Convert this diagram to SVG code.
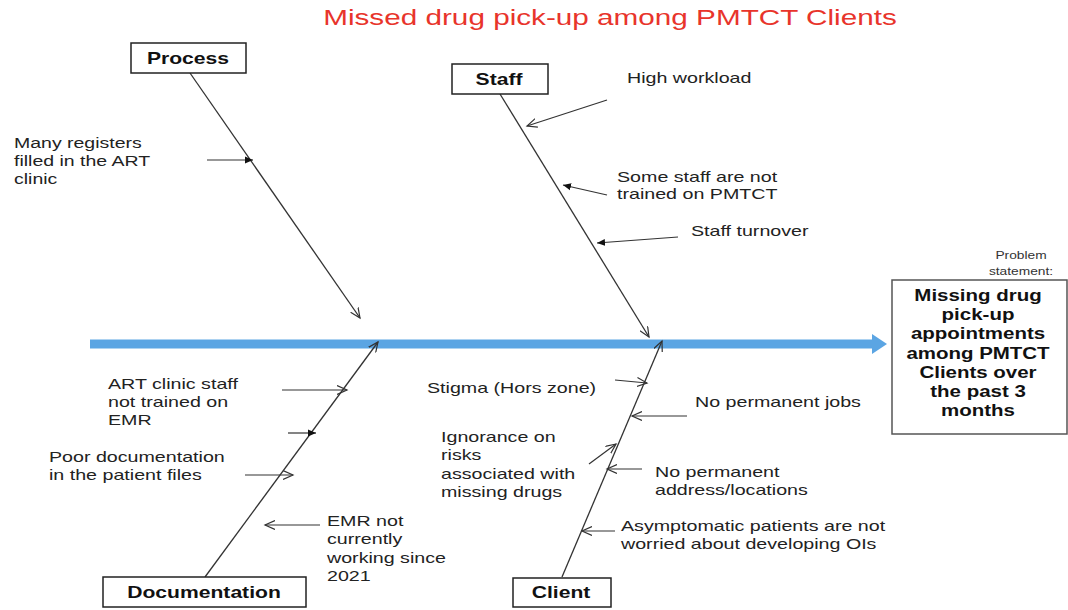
<svg xmlns="http://www.w3.org/2000/svg" width="1068" height="610" viewBox="0 0 1068 610">
<style>
.t{font-family:"Liberation Sans",Arial,sans-serif;font-size:15px;fill:#222}
.b{font-family:"Liberation Sans",Arial,sans-serif;font-size:16px;font-weight:bold;fill:#111;text-anchor:middle}
.s{font-family:"Liberation Sans",Arial,sans-serif;font-size:11px;fill:#333;text-anchor:middle}
.ttl{font-family:"Liberation Sans",Arial,sans-serif;font-size:22px;fill:#e8342b;text-anchor:middle}
.box{fill:#fff;stroke:#222;stroke-width:1.5}
.bone{stroke:#333;stroke-width:1.3;fill:none}
.ar{stroke:#333;stroke-width:1.2;fill:none}
.ao{marker-end:url(#open)}
.af{marker-end:url(#fill)}
</style>
<defs>
<marker id="open" markerWidth="12" markerHeight="10" refX="10" refY="5" orient="auto" markerUnits="userSpaceOnUse"><path d="M0,0.5 L10,5 L0,9.5" fill="none" stroke="#333" stroke-width="1.2"/></marker>
<marker id="fill" markerWidth="10" markerHeight="8" refX="8" refY="4" orient="auto" markerUnits="userSpaceOnUse"><path d="M0,0.5 L8,4 L0,7.5 z" fill="#111"/></marker>
</defs>
<rect width="1068" height="610" fill="#fff"/>
<text class="ttl" transform="translate(610,24.5) scale(1.35,1)">Missed drug pick-up among PMTCT Clients</text>

<g id="spine">
<line x1="90" y1="344" x2="874" y2="344" stroke="#5ba5e3" stroke-width="9"/>
<polygon points="872,334 887,344 872,354" fill="#5ba5e3"/>
</g>

<g id="connectors">
<line class="bone ao" x1="190" y1="73" x2="360" y2="318"/>
<line class="bone ao" x1="500" y1="94" x2="649" y2="337"/>
<line class="bone ao" x1="205" y1="577" x2="378" y2="342"/>
<line class="bone ao" x1="562" y1="577" x2="662" y2="341"/>
<line class="ar af" x1="207" y1="160" x2="253" y2="160"/>
<line class="ar ao" x1="607" y1="100" x2="527" y2="126"/>
<line class="ar af" x1="607" y1="195" x2="563" y2="185"/>
<line class="ar af" x1="678" y1="237" x2="597" y2="243"/>
<line class="ar ao" x1="282" y1="390" x2="347" y2="390"/>
<line class="ar af" x1="288" y1="433" x2="316" y2="433"/>
<line class="ar ao" x1="245" y1="475" x2="293" y2="475"/>
<line class="ar ao" x1="320" y1="525" x2="265" y2="525"/>
<line class="ar ao" x1="615" y1="380" x2="647" y2="383"/>
<line class="ar ao" x1="687" y1="416" x2="632" y2="416"/>
<line class="ar ao" x1="589" y1="464" x2="616" y2="444"/>
<line class="ar ao" x1="642" y1="469" x2="607" y2="469"/>
<line class="ar ao" x1="615" y1="531" x2="582" y2="531"/>
</g>

<g id="process">
<rect class="box" x="131" y="43" width="115" height="30"/>
<text class="b" transform="translate(188,63.5) scale(1.32,1)">Process</text>
</g>
<g id="staff">
<rect class="box" x="452" y="64" width="96" height="30"/>
<text class="b" transform="translate(499,85) scale(1.32,1)">Staff</text>
</g>
<g id="documentation">
<rect class="box" x="103" y="577" width="203" height="30"/>
<text class="b" transform="translate(204,598) scale(1.32,1)">Documentation</text>
</g>
<g id="client">
<rect class="box" x="513" y="578" width="98" height="29"/>
<text class="b" transform="translate(561,598) scale(1.32,1)">Client</text>
</g>

<g id="problem">
<text class="s" transform="translate(1021,258.5) scale(1.25,1)">Problem</text>
<text class="s" transform="translate(1021,275) scale(1.25,1)">statement:</text>
<rect x="892" y="280" width="175" height="154" fill="#fff" stroke="#555" stroke-width="1.5"/>
<text class="b" transform="translate(978,301) scale(1.28,1)"><tspan x="0" y="0">Missing drug</tspan><tspan x="0" y="19.25">pick-up</tspan><tspan x="0" y="38.5">appointments</tspan><tspan x="0" y="57.75">among PMTCT</tspan><tspan x="0" y="77">Clients over</tspan><tspan x="0" y="96.25">the past 3</tspan><tspan x="0" y="115.5">months</tspan></text>
</g>

<g id="cause-registers">
<text class="t" transform="translate(14,148) scale(1.3,1)"><tspan x="0" y="0">Many registers</tspan><tspan x="0" y="18">filled in the ART</tspan><tspan x="0" y="36">clinic</tspan></text>
</g>
<g id="cause-workload">
<text class="t" transform="translate(627,82.5) scale(1.31,1)">High workload</text>
</g>
<g id="cause-training">
<text class="t" transform="translate(617,181.5) scale(1.31,1)"><tspan x="0" y="0">Some staff are not</tspan><tspan x="0" y="18">trained on PMTCT</tspan></text>
</g>
<g id="cause-turnover">
<text class="t" transform="translate(691,236) scale(1.31,1)">Staff turnover</text>
</g>
<g id="cause-emr-training">
<text class="t" transform="translate(108,389) scale(1.31,1)"><tspan x="0" y="0">ART clinic staff</tspan><tspan x="0" y="18">not trained on</tspan><tspan x="0" y="36.5">EMR</tspan></text>
</g>
<g id="cause-poor-doc">
<text class="t" transform="translate(49,462) scale(1.31,1)"><tspan x="0" y="0">Poor documentation</tspan><tspan x="0" y="18">in the patient files</tspan></text>
</g>
<g id="cause-emr">
<text class="t" transform="translate(327,526) scale(1.31,1)"><tspan x="0" y="0">EMR not</tspan><tspan x="0" y="18.5">currently</tspan><tspan x="0" y="37">working since</tspan><tspan x="0" y="55.5">2021</tspan></text>
</g>
<g id="cause-stigma">
<text class="t" transform="translate(427,393) scale(1.31,1)">Stigma (Hors zone)</text>
</g>
<g id="cause-ignorance">
<text class="t" transform="translate(441,442) scale(1.31,1)"><tspan x="0" y="0">Ignorance on</tspan><tspan x="0" y="18.3">risks</tspan><tspan x="0" y="36.6">associated with</tspan><tspan x="0" y="55">missing drugs</tspan></text>
</g>
<g id="cause-jobs">
<text class="t" transform="translate(695,407) scale(1.31,1)">No permanent jobs</text>
</g>
<g id="cause-address">
<text class="t" transform="translate(655,476.5) scale(1.31,1)"><tspan x="0" y="0">No permanent</tspan><tspan x="0" y="18.3">address/locations</tspan></text>
</g>
<g id="cause-asymptomatic">
<text class="t" transform="translate(621,531) scale(1.31,1)"><tspan x="0" y="0">Asymptomatic patients are not</tspan><tspan x="0" y="18">worried about developing OIs</tspan></text>
</g>
</svg>
